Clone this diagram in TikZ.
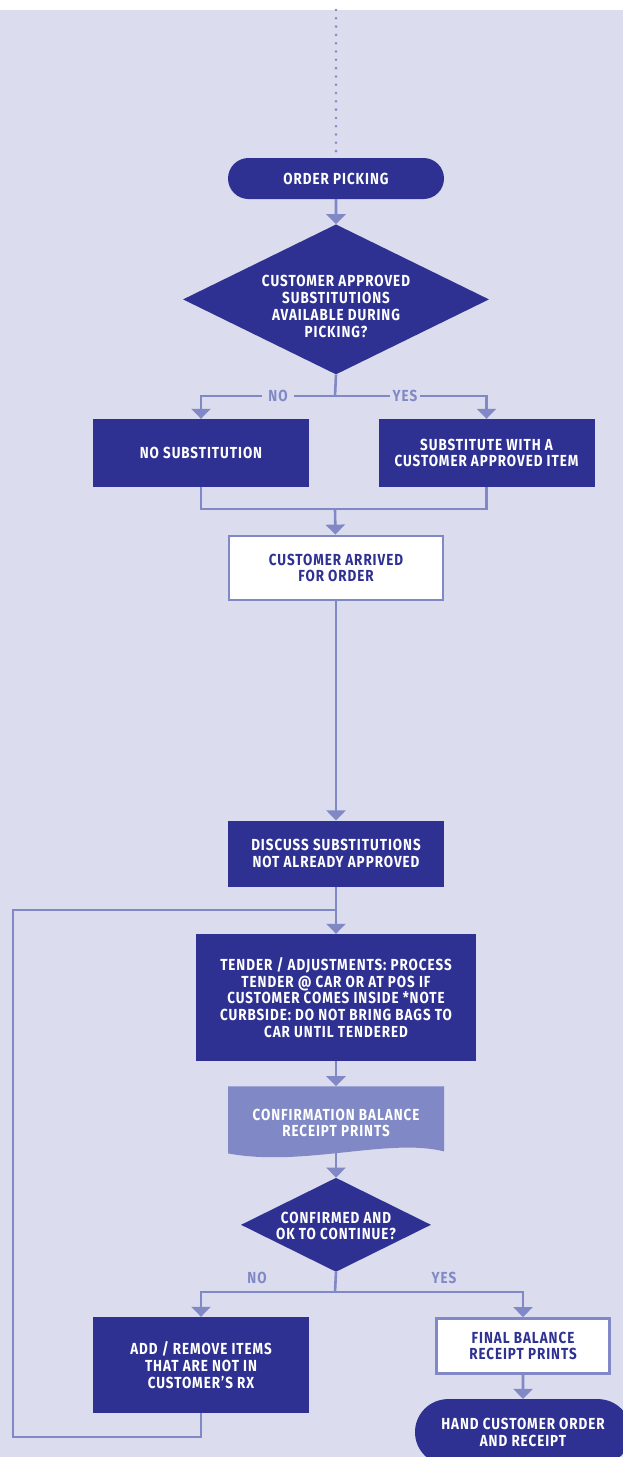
\documentclass[tikz,border=0pt]{standalone}
\usepackage{fontspec}
\setmainfont{Fira Sans}
\newfontfamily\flowfont[FakeStretch=0.84,LetterSpace=6]{Fira Sans}
\usepackage{tikz}
\usetikzlibrary{arrows.meta,positioning,shapes.geometric,shapes.misc}
\definecolor{navy}{HTML}{2E3192}
\definecolor{flowline}{HTML}{8088C6}
\definecolor{paper}{HTML}{DBDCEE}

\begin{document}
\begin{tikzpicture}[
  x=1pt,y=1pt,
  font=\flowfont\bfseries\fontsize{16}{16.7}\selectfont,
  block/.style={fill=navy,text=white,minimum width=216pt,minimum height=68pt,align=center,inner sep=0pt},
  note/.style={fill=white,draw=flowline,line width=2.8pt,text=navy,minimum width=214pt,minimum height=64pt,align=center,inner sep=0pt},
  terminal/.style={rounded rectangle,fill=navy,text=white,minimum width=216pt,minimum height=41pt,align=center,inner sep=0pt},
  decision/.style={diamond,fill=navy,inner sep=0pt},
  dectext/.style={text=white,align=center},
  docshape/.style={text=white,minimum width=216pt,minimum height=73pt,align=center,inner sep=0pt,
    path picture={\fill[flowline] (path picture bounding box.north west) -- (path picture bounding box.north east)
      -- ([yshift=8pt]path picture bounding box.south east) .. controls +(-55pt,14pt) and +(75pt,-14pt) .. ([yshift=6pt]path picture bounding box.south west) -- cycle;}},
  lbl/.style={text=flowline,inner sep=0pt},
  line/.style={line width=2.6pt,draw=flowline,line join=miter},
  arrow/.style={line,-{Triangle[width=19pt,length=10pt]}}
]
\fill[white] (0,0) rectangle (623,-10);
\fill[paper] (0,-10) rectangle (623,-1457);
\useasboundingbox (0,0) rectangle (623,-1457);

\node[terminal] (pick) at (336,-178.5) {ORDER PICKING};
\node[decision,minimum width=306pt,minimum height=150pt,below=25pt of pick,
  label={[dectext,yshift=-7pt]center:CUSTOMER APPROVED\\SUBSTITUTIONS\\AVAILABLE DURING\\PICKING?}] (subq) {};
\node[block] (nosub) at (201,-453) {NO SUBSTITUTION};
\node[block] (sub) at (486.5,-453) {SUBSTITUTE WITH A\\CUSTOMER APPROVED ITEM};
\node[note,below=160pt of subq] (arrived) {CUSTOMER ARRIVED\\FOR ORDER};
\node[block,minimum height=66pt,below=219pt of arrived] (discuss) {DISCUSS SUBSTITUTIONS\\NOT ALREADY APPROVED};
\node[block,minimum width=280pt,minimum height=127pt,below=47pt of discuss] (tender) {TENDER / ADJUSTMENTS: PROCESS\\TENDER @ CAR OR AT POS IF\\CUSTOMER COMES INSIDE *NOTE\\CURBSIDE: DO NOT BRING BAGS TO\\CAR UNTIL TENDERED};
\node[docshape,below=25pt of tender] (conf) {CONFIRMATION BALANCE\\RECEIPT PRINTS};
\node[decision,minimum width=190pt,minimum height=94pt,below=18pt of conf,
  label={[dectext,yshift=-1pt]center:CONFIRMED AND\\OK TO CONTINUE?}] (okq) {};
\node[block,minimum height=96pt] (addrm) at (201,-1365) {ADD / REMOVE ITEMS\\THAT ARE NOT IN\\CUSTOMER’S RX};
\node[note,minimum width=173pt,minimum height=55pt] (final) at (523,-1346) {FINAL BALANCE\\RECEIPT PRINTS};
\node[terminal,minimum height=66pt,below=24pt of final] (hand) {HAND CUSTOMER ORDER\\AND RECEIPT};

\coordinate (start) at (336,-10);
\coordinate (split1) at (335,-396);
\coordinate (merge1) at (335,-509);
\coordinate (split2) at (335,-1292);
\coordinate (loopjoin) at (335,-910);
\coordinate (loopbl) at (13,-1437);

\draw[line,dash pattern=on 0pt off 8.3pt,line cap=round,line width=2.8pt] (start) -- (pick.north);
\draw[arrow] (pick) -- (subq);
\draw[line] (subq.south) -- (split1);
\draw[arrow] (split1) -| (nosub.north);
\draw[arrow] (split1) -| (sub.north);
\node[lbl,fill=paper,inner xsep=6pt,inner ysep=3pt] (no1) at (278,-396) {NO};
\node[lbl,fill=paper,inner xsep=3pt,inner ysep=3pt] (yes1) at (405,-396) {YES};
\draw[line] (nosub.south) |- (merge1) -| (sub.south);
\draw[arrow] (merge1) -- (arrived);
\draw[arrow] (arrived) -- (discuss);
\draw[arrow] (discuss) -- (tender);
\draw[arrow] (tender) -- (conf);
\draw[arrow] ([yshift=8pt]conf.south) -- (okq);
\draw[line] (okq.south) -- (split2);
\draw[arrow] (split2) -| (addrm.north);
\draw[arrow] (split2) -| (final.north);
\node[lbl] (no2) at (257,-1278) {NO};
\node[lbl] (yes2) at (444,-1278) {YES};
\draw[arrow] (final) -- (hand);
% loop back for adjustments
\draw[line] (addrm.south) |- (loopbl) |- (loopjoin);
\end{tikzpicture}
\end{document}
